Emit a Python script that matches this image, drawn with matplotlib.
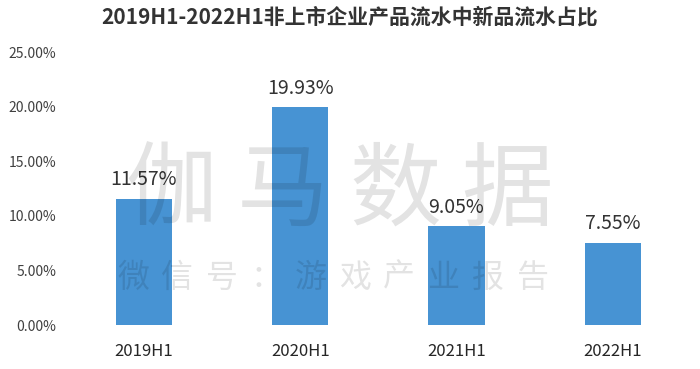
import matplotlib
matplotlib.use("Agg")
import matplotlib.pyplot as plt
from matplotlib.ticker import FuncFormatter

plt.rcParams["font.family"] = ["Noto Sans CJK SC", "DejaVu Sans"]

periods = ["2019H1", "2020H1", "2021H1", "2022H1"]
shares = [11.57, 19.93, 9.05, 7.55]
yticks = [0, 5, 10, 15, 20, 25]
title = "2019H1-2022H1非上市企业产品流水中新品流水占比"
mark_big = "伽马数据"
mark_small = "微信号：游戏产业报告"

fig = plt.figure(figsize=(7, 3.69), dpi=100)
ax = fig.add_axes([0.094, 0.119, 0.893, 0.74])

x = range(len(periods))
bars = ax.bar(x, shares, width=0.36, color="#4793d3", zorder=2)
for b, v in zip(bars, shares):
    ax.text(b.get_x() + b.get_width() / 2, v + 0.8, f"{v:.2f}%",
            ha="center", va="bottom", fontsize=14, color="#333333",
            fontweight="light", zorder=3)

ax.set_xlim(-0.5, len(periods) - 0.5)
ax.set_ylim(0, 25)
ax.set_yticks(yticks)
ax.yaxis.set_major_formatter(FuncFormatter(lambda v, _: f"{v:.2f}%"))
ax.set_xticks(list(x))
ax.set_xticklabels(periods, fontsize=12, color="#262626")
ax.tick_params(axis="y", labelsize=10, labelcolor="#404040", length=0, pad=7)
ax.tick_params(axis="x", length=0, pad=13)
for s in ax.spines.values():
    s.set_visible(False)

fig.text(0.5, 0.955, title, ha="center", va="center",
         fontsize=15, fontweight="bold", color="#333333")

# translucent watermark drawn over the bars, one glyph at a time for wide spacing
for i, ch in enumerate(mark_big):
    fig.text(0.484 + (i - 1.5) * 0.160, 0.477, ch, ha="center", va="center",
             fontsize=66, fontweight="light", color="black", alpha=0.11)
for i, ch in enumerate(mark_small):
    fig.text(0.475 + (i - 4.5) * 0.0633, 0.247, ch, ha="center", va="center",
             fontsize=23, fontweight="light", color="black", alpha=0.11)

fig.savefig("out.png", dpi=100)
